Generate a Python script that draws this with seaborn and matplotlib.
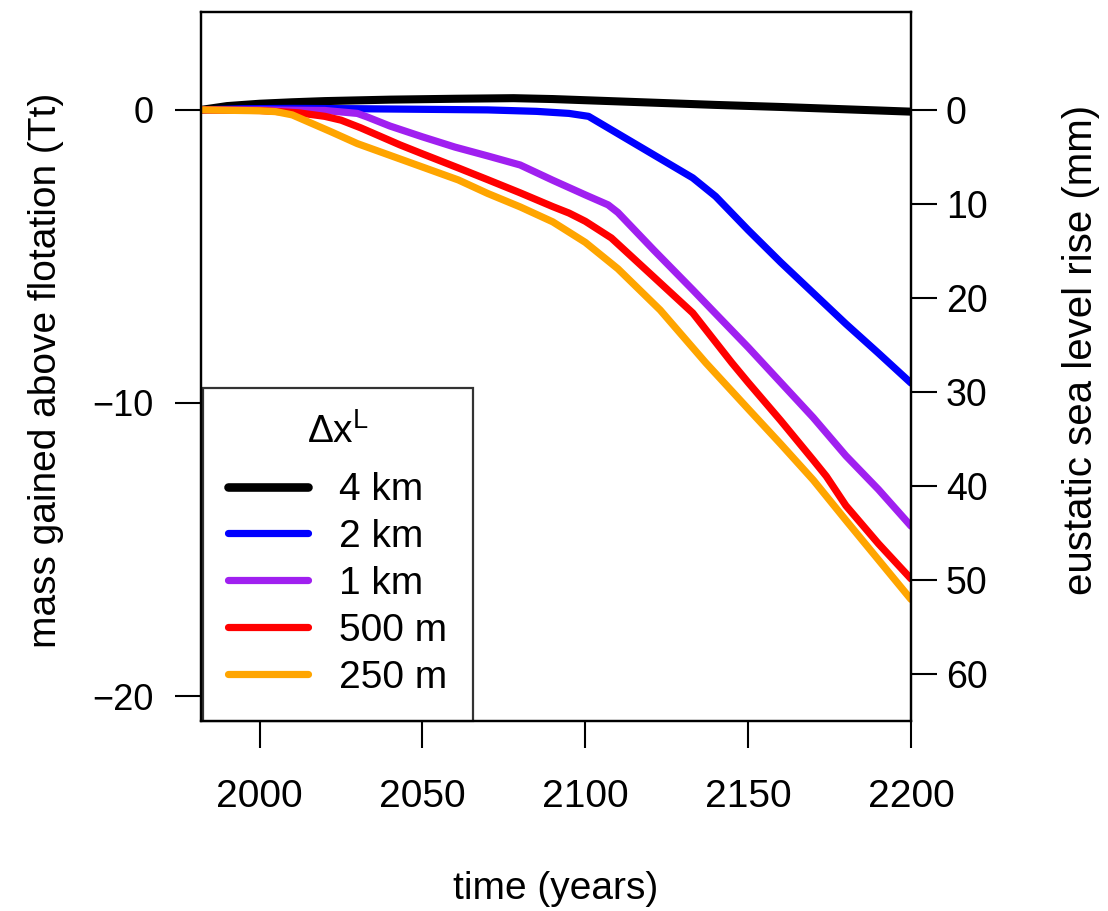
import numpy as np
import pandas as pd
import matplotlib
matplotlib.use("Agg")
import matplotlib.pyplot as plt
import seaborn as sns
from matplotlib import font_manager
from matplotlib.lines import Line2D

# ---------------- data ----------------
years_4km = [1982, 1990, 2000, 2010, 2020, 2040, 2060, 2078, 2090, 2100, 2120, 2140, 2160, 2180, 2200]
mass_4km = [0.0, 0.13, 0.21, 0.26, 0.30, 0.35, 0.38, 0.40, 0.37, 0.33, 0.25, 0.17, 0.10, 0.02, -0.06]

years_2km = [1982, 1995, 2010, 2030, 2050, 2070, 2085, 2095, 2101, 2133, 2140, 2150, 2160, 2170, 2180, 2190, 2200]
mass_2km = [0.0, 0.04, 0.05, 0.04, 0.02, 0.0, -0.05, -0.12, -0.22, -2.32, -2.95, -4.1, -5.2, -6.25, -7.3, -8.3, -9.32]

years_1km = [1982, 2000, 2020, 2030, 2033, 2040, 2050, 2060, 2070, 2080, 2090, 2100, 2107, 2110, 2121, 2133, 2140, 2150, 2160, 2170, 2180, 2190, 2200]
mass_1km = [0.0, 0.0, -0.02, -0.12, -0.24, -0.55, -0.92, -1.27, -1.57, -1.88, -2.4, -2.9, -3.24, -3.5, -4.78, -6.14, -6.95, -8.1, -9.3, -10.5, -11.8, -12.95, -14.2]

years_500m = [1982, 2000, 2012, 2020, 2025, 2031, 2043, 2050, 2061, 2070, 2080, 2090, 2095, 2100, 2108, 2121, 2133, 2145, 2150, 2160, 2170, 2174, 2180, 2190, 2200]
mass_500m = [0.0, -0.02, -0.1, -0.22, -0.35, -0.61, -1.19, -1.5, -1.98, -2.38, -2.83, -3.3, -3.52, -3.8, -4.37, -5.7, -6.93, -8.63, -9.3, -10.6, -11.95, -12.5, -13.5, -14.8, -16.0]

years_250m = [1982, 2000, 2005, 2010, 2022, 2030, 2037, 2050, 2061, 2070, 2080, 2090, 2100, 2110, 2123, 2137, 2150, 2160, 2170, 2180, 2190, 2200]
mass_250m = [0.0, -0.03, -0.06, -0.17, -0.75, -1.15, -1.43, -1.95, -2.39, -2.85, -3.31, -3.82, -4.52, -5.42, -6.83, -8.63, -10.2, -11.4, -12.63, -14.0, -15.35, -16.7]

series_labels = ["4 km", "2 km", "1 km", "500 m", "250 m"]
series_colors = ["#000000", "#0000FF", "#A020F0", "#FF0000", "#FFA500"]
x_ticks = [2000, 2050, 2100, 2150, 2200]
y_ticks = [0, -10, -20]
y_ticklabels = ["0", "\u221210", "\u221220"]
sl_ticks = [0, 10, 20, 30, 40, 50, 60]
MM_PER_TT = 3.117

frames = []
for lab, yrs, vals in zip(series_labels,
                          [years_4km, years_2km, years_1km, years_500m, years_250m],
                          [mass_4km, mass_2km, mass_1km, mass_500m, mass_250m]):
    frames.append(pd.DataFrame({"year": yrs, "mass": vals, "res": lab}))
df = pd.concat(frames, ignore_index=True)

# ---------------- style ----------------
sns.set_style("ticks")
avail = {f.name for f in font_manager.fontManager.ttflist}
base_font = "Liberation Sans" if "Liberation Sans" in avail else "DejaVu Sans"
plt.rcParams["font.family"] = [base_font, "DejaVu Sans"]
plt.rcParams["text.color"] = "black"
plt.rcParams["axes.labelcolor"] = "black"
plt.rcParams["xtick.color"] = "black"
plt.rcParams["ytick.color"] = "black"
plt.rcParams["mathtext.fontset"] = "custom"
plt.rcParams["mathtext.rm"] = base_font
plt.rcParams["mathtext.it"] = base_font

fig = plt.figure(figsize=(11.08, 9.11), dpi=100)
ax = fig.add_axes([201/1108, 1-721/911, 710/1108, 709/911])

sns.lineplot(data=df, x="year", y="mass", hue="res", hue_order=series_labels,
             palette=dict(zip(series_labels, series_colors)), linewidth=5.2,
             sort=False, estimator=None, ax=ax, legend=False)
ax.lines[0].set_linewidth(5.8)
for ln in ax.lines:
    ln.set_solid_joinstyle("round")

ax.set_xlim(1982, 2200)
ax.set_ylim(-20.85, 3.34)
ax.set_xticks(x_ticks)
ax.set_xticklabels([str(v) for v in x_ticks], fontsize=28)
ax.set_yticks(y_ticks)
ax.set_yticklabels(y_ticklabels, fontsize=26)
ax.tick_params(axis="x", direction="out", length=19.5, width=1.5, pad=22, colors="black")
ax.tick_params(axis="y", direction="out", length=19, width=1.5, pad=15, colors="black")
for s in ax.spines.values():
    s.set_visible(True)
    s.set_linewidth(1.6)
    s.set_color("black")

ax.set_xlabel("time (years)", fontsize=28, color="black")
ax.xaxis.set_label_coords(0.5, -0.211)
ax.set_ylabel("mass gained above flotation (Tt)", fontsize=28, color="black")
ax.yaxis.set_label_coords(-0.193, 0.495)

# right axis: eustatic sea level rise
ax2 = ax.twinx()
lo, hi = ax.get_ylim()
ax2.set_ylim(-lo*MM_PER_TT, -hi*MM_PER_TT)
ax2.set_yticks(sl_ticks)
ax2.set_yticklabels([str(v) for v in sl_ticks], fontsize=27)
ax2.tick_params(axis="y", direction="out", length=19, width=1.5, pad=6, colors="black")
for s in ax2.spines.values():
    s.set_linewidth(1.6)
    s.set_color("black")
ax2.set_ylabel("eustatic sea level rise (mm)", fontsize=29, rotation=90, color="black")
ax2.yaxis.set_label_coords(1.213, 0.523)

# legend
handles = [Line2D([], [], color=c, lw=(6.2 if i == 0 else 5.2), solid_capstyle="round")
           for i, c in enumerate(series_colors)]
leg = ax.legend(handles, series_labels, loc="lower left", title=r"$\Delta\mathrm{x}^{\mathrm{L}}$",
                fontsize=28, title_fontsize=28, frameon=True, fancybox=False,
                edgecolor="black", borderaxespad=0.0, handlelength=2.05, handletextpad=0.8,
                labelspacing=0.28, borderpad=0.65, bbox_to_anchor=(0.003, 0.0))
leg._legend_box.sep = 15
leg.get_frame().set_linewidth(1.6)
leg.get_frame().set_edgecolor("black")
leg.get_title().set_color("black")
for t in leg.get_texts():
    t.set_color("black")
leg.set_zorder(5)

fig.savefig("out.png", dpi=100)
